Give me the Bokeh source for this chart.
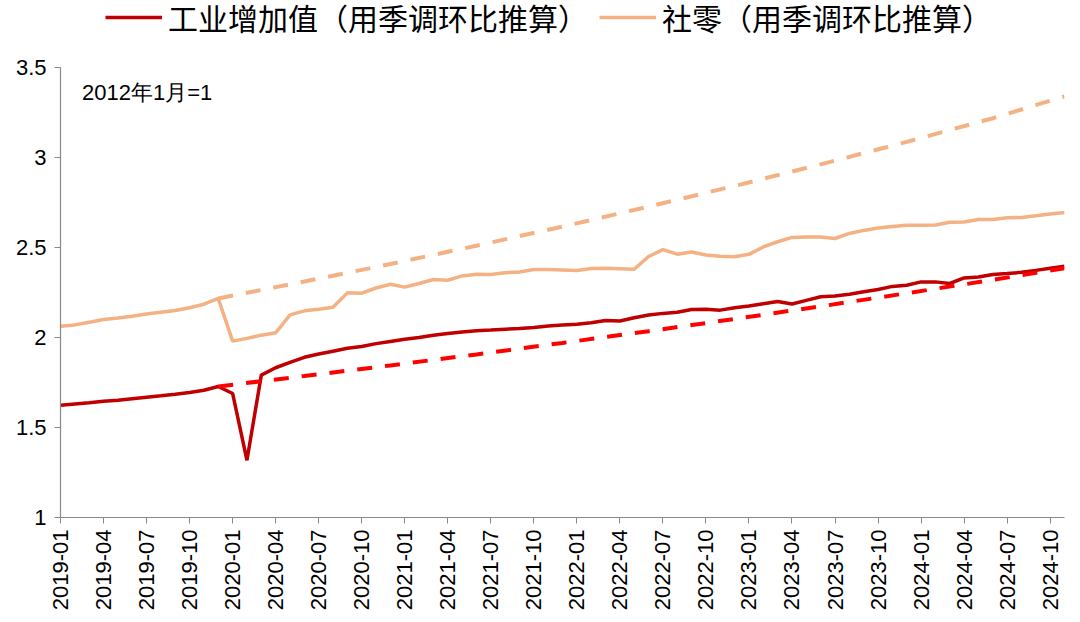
import math
import pandas as pd
from bokeh.plotting import figure
from bokeh.layouts import column
from bokeh.models import Range1d, FixedTicker, Legend, LegendItem, Label
from bokeh.embed import file_html
from bokeh.resources import INLINE

# ---- data ----
months = [d.strftime("%Y-%m") for d in pd.date_range("2019-01-01", "2024-11-01", freq="MS")]

industry = [1.624, 1.631, 1.638, 1.646, 1.652, 1.660, 1.668, 1.676, 1.685, 1.695, 1.707, 1.728,
            1.689, 1.318, 1.791, 1.832, 1.862, 1.890, 1.908, 1.924, 1.940, 1.950, 1.966, 1.978,
            1.990, 2.000, 2.013, 2.022, 2.030, 2.037, 2.041, 2.046, 2.050, 2.056, 2.064, 2.069,
            2.074, 2.082, 2.095, 2.092, 2.110, 2.125, 2.134, 2.140, 2.156, 2.157, 2.152, 2.165,
            2.175, 2.188, 2.200, 2.186, 2.206, 2.226, 2.230, 2.240, 2.254, 2.267, 2.284, 2.290,
            2.309, 2.309, 2.300, 2.331, 2.336, 2.350, 2.355, 2.362, 2.373, 2.385, 2.396]

retail = [2.063, 2.070, 2.085, 2.100, 2.108, 2.118, 2.130, 2.140, 2.150, 2.165, 2.185, 2.217,
          1.980, 1.995, 2.013, 2.026, 2.126, 2.148, 2.157, 2.168, 2.248, 2.246, 2.275, 2.296,
          2.280, 2.300, 2.322, 2.318, 2.342, 2.352, 2.350, 2.360, 2.364, 2.378, 2.378, 2.375,
          2.372, 2.383, 2.385, 2.382, 2.379, 2.450, 2.488, 2.463, 2.475, 2.458, 2.452, 2.449,
          2.462, 2.503, 2.532, 2.556, 2.558, 2.558, 2.550, 2.578, 2.595, 2.608, 2.617, 2.624,
          2.624, 2.625, 2.640, 2.642, 2.655, 2.656, 2.665, 2.667, 2.677, 2.686, 2.694]

trend_months = ["2019-12", "2020-06", "2020-12", "2021-06", "2021-12", "2022-06",
                "2022-12", "2023-06", "2023-12", "2024-06", "2024-11"]
industry_trend = [1.728, 1.786, 1.845, 1.906, 1.970, 2.035, 2.103, 2.173, 2.246, 2.320, 2.385]
retail_trend = [2.217, 2.311, 2.408, 2.510, 2.616, 2.727, 2.842, 2.962, 3.087, 3.218, 3.340]

y_ticks = [1, 1.5, 2, 2.5, 3, 3.5]
y_tick_labels = ["1", "1.5", "2", "2.5", "3", "3.5"]

series_names = ["工业增加值（用季调环比推算）", "社零（用季调环比推算）"]
note_text = "2012年1月=1"

RED = "#C00000"
RED_D = "#FF0000"
ORANGE = "#F4B183"

# ---- legend strip (separate figure above the chart) ----
LEG_H = 50
leg = figure(width=1072, height=LEG_H, output_backend="svg", toolbar_location=None,
             x_range=Range1d(0, 1), y_range=Range1d(0, 1),
             min_border=0, min_border_left=0, min_border_right=0,
             min_border_top=0, min_border_bottom=0)
leg.frame_width = 1072
leg.frame_height = LEG_H
leg.axis.visible = False
leg.grid.visible = False
leg.outline_line_color = None
# renderers only serve as legend swatches (their points lie outside the visible range)
r1 = leg.line([5, 6], [5, 6], line_color=RED, line_width=3.5)
r2 = leg.line([5, 6], [5, 6], line_color=ORANGE, line_width=3.5)
legend = Legend(items=[LegendItem(label=series_names[0], renderers=[r1]),
                       LegendItem(label=series_names[1], renderers=[r2])],
                orientation="horizontal", location=(105, 11))
legend.label_text_font = "Noto Sans CJK SC"
legend.label_text_font_size = "30px"
legend.label_text_color = "black"
legend.glyph_width = 57
legend.glyph_height = 30
legend.label_standoff = 6
legend.spacing = 11
legend.padding = 0
legend.margin = 0
legend.border_line_alpha = 0
legend.background_fill_alpha = 0
leg.add_layout(legend, "center")

# ---- main chart ----
x = list(range(len(months)))
xt = [months.index(m) for m in trend_months]

p = figure(width=1072, height=614 - LEG_H, output_backend="svg", toolbar_location=None,
           x_range=Range1d(0, len(months) - 1), y_range=Range1d(1, 3.5),
           min_border_left=60, min_border_right=8, min_border_top=67 - LEG_H,
           min_border_bottom=97)
p.frame_width = 1004
p.frame_height = 450
p.outline_line_color = None
p.xgrid.visible = False
p.ygrid.visible = False
p.background_fill_color = "white"

p.line(x, industry, line_color=RED, line_width=3.5)
p.line(x, retail, line_color=ORANGE, line_width=3.5)
p.line(xt, industry_trend, line_color=RED_D, line_width=4, line_dash="15 13")
p.line(xt, retail_trend, line_color=ORANGE, line_width=4, line_dash="15 13")

p.xaxis.ticker = FixedTicker(ticks=list(range(0, len(months), 3)))
p.xaxis.major_label_overrides = {i: months[i] for i in range(0, len(months), 3)}
p.xaxis.major_label_orientation = math.pi / 2
p.yaxis.ticker = FixedTicker(ticks=y_ticks)
p.yaxis.major_label_overrides = {v: s for v, s in zip(y_ticks, y_tick_labels)}
for ax in (p.xaxis, p.yaxis):
    ax.axis_line_color = "#898989"
    ax.axis_line_width = 1.2
    ax.major_tick_line_color = "#898989"
    ax.major_tick_out = 6
    ax.major_tick_in = 0
    ax.minor_tick_line_color = None
    ax.major_label_text_font = "Liberation Sans"
    ax.major_label_text_font_size = "22px"
    ax.major_label_text_color = "black"
p.xaxis.major_label_standoff = 6
p.yaxis.major_label_standoff = 8

p.add_layout(Label(x=1.5, y=3.36, text=note_text, text_font="Liberation Sans",
                   text_font_size="22px", text_color="black", text_baseline="middle"))

layout = column(leg, p, spacing=0)
open("out.html", "w").write(file_html(layout, INLINE))
